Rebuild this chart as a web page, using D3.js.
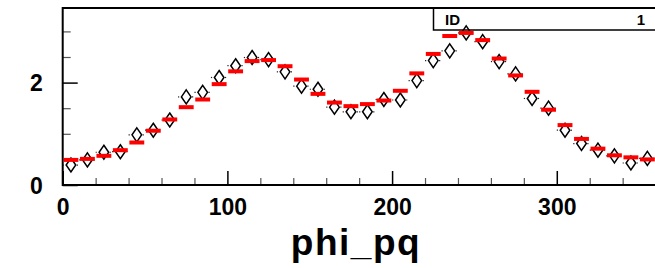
<!DOCTYPE html>
<html>
<head>
<meta charset="utf-8">
<script src="https://cdn.jsdelivr.net/npm/d3@7"></script>
<style>
  body { margin: 0; background: #fff; }
  svg text { font-family: "Liberation Sans", Arial, sans-serif; font-weight: bold; }
</style>
</head>
<body>
<svg id="chart" width="655" height="268"></svg>
<script>
// bin centers (phi_pq, 10 deg bins)
const binCenters = d3.range(5, 360, 10);
// histogram contents (red)
const histVals = [0.49, 0.51, 0.57, 0.68, 0.83, 1.06, 1.28, 1.52, 1.67, 1.97, 2.22, 2.42,
  2.44, 2.32, 2.06, 1.78, 1.61, 1.54, 1.58, 1.65, 1.84, 2.18, 2.56, 2.91,
  2.97, 2.83, 2.47, 2.14, 1.82, 1.47, 1.17, 0.90, 0.71, 0.58, 0.54, 0.50];
// data points (open diamonds)
const pointVals = [0.39, 0.49, 0.64, 0.65, 0.98, 1.07, 1.27, 1.72, 1.81, 2.10, 2.33, 2.49,
  2.45, 2.21, 1.93, 1.87, 1.52, 1.43, 1.43, 1.67, 1.66, 2.04, 2.43, 2.62,
  2.97, 2.80, 2.41, 2.17, 1.69, 1.50, 1.07, 0.81, 0.68, 0.57, 0.43, 0.52];
const xMajor = [0, 100, 200, 300];
const xMinor = d3.range(20, 360, 20).filter((d) => d % 100 !== 0);
const yMajor = [0, 2];
const yMinor = [0.5, 1, 1.5, 2.5, 3];

const svg = d3.select("#chart");
const padL = 62.7, padR = 655.6, padT = 8, padB = 185;
const binW = 10;

const x = d3.scaleLinear().domain([0, 360]).range([padL, padR]);
const y = d3.scaleLinear().domain([0, 3.457]).range([padB, padT]);

// stats box
svg.append("rect")
  .attr("x", 433.5).attr("y", padT)
  .attr("width", 240).attr("height", 22)
  .attr("fill", "#fff").attr("stroke", "#000").attr("stroke-width", 1.5);
svg.append("text").attr("x", 445).attr("y", 25)
  .attr("font-size", 15).text("ID");
svg.append("text").attr("x", 645).attr("y", 25)
  .attr("font-size", 15).attr("text-anchor", "end").text("1");

// x axis
const xAxis = svg.append("g").attr("transform", `translate(0,${padB})`)
  .call(d3.axisBottom(x).tickValues(xMajor).tickSizeInner(-14).tickSizeOuter(0)
    .tickPadding(14).tickFormat(d3.format("d")));
xAxis.select(".domain").remove();
xAxis.selectAll("text").attr("font-size", 23).attr("fill", "#000");
xAxis.selectAll("line").attr("stroke", "#000").attr("stroke-width", 1.5);

const xAxisMinor = svg.append("g").attr("transform", `translate(0,${padB})`)
  .call(d3.axisBottom(x).tickValues(xMinor).tickSize(-7).tickFormat(""));
xAxisMinor.select(".domain").remove();
xAxisMinor.selectAll("line").attr("stroke", "#555").attr("stroke-width", 1.2);

// y axis
const yAxis = svg.append("g").attr("transform", `translate(${padL},0)`)
  .call(d3.axisLeft(y).tickValues(yMajor).tickSizeInner(-15).tickSizeOuter(0)
    .tickPadding(20).tickFormat(d3.format("d")));
yAxis.select(".domain").remove();
yAxis.selectAll("text").attr("font-size", 23).attr("fill", "#000").attr("dy", "0.36em");
yAxis.selectAll("line").attr("stroke", "#000").attr("stroke-width", 1.5);

const yAxisMinor = svg.append("g").attr("transform", `translate(${padL},0)`)
  .call(d3.axisLeft(y).tickValues(yMinor).tickSize(-8).tickFormat(""));
yAxisMinor.select(".domain").remove();
yAxisMinor.selectAll("line").attr("stroke", "#555").attr("stroke-width", 1.2);

// frame
svg.append("path")
  .attr("d", `M${padR + 2},${padT} H${padL} V${padB} H${padR + 2}`)
  .attr("fill", "none").attr("stroke", "#000").attr("stroke-width", 2);

const pts = binCenters.map((c, i) => ({ c, h: histVals[i], p: pointVals[i] }));

// dotted x error bars
const mw = 4.8;
const err = svg.append("g").attr("stroke", "#222").attr("stroke-width", 1.2)
  .attr("stroke-dasharray", "1.2,2");
pts.forEach((d) => {
  err.append("line")
    .attr("x1", x(d.c - binW / 2)).attr("x2", x(d.c) - mw - 1)
    .attr("y1", y(d.p)).attr("y2", y(d.p));
  err.append("line")
    .attr("x1", x(d.c) + mw + 1).attr("x2", x(d.c + binW / 2))
    .attr("y1", y(d.p)).attr("y2", y(d.p));
});

// diamonds
svg.append("g").selectAll("path")
  .data(pts)
  .join("path")
  .attr("d", `M0,-7 L${mw},0 L0,7 L${-mw},0 Z`)
  .attr("transform", (d) => `translate(${x(d.c)},${y(d.p)})`)
  .attr("fill", "none")
  .attr("stroke", "#000")
  .attr("stroke-width", 1.5);

// histogram bars (red)
svg.append("g").selectAll("rect")
  .data(pts)
  .join("rect")
  .attr("x", (d) => x(d.c - binW / 2) + 0.8)
  .attr("width", (d) => x(d.c + binW / 2) - x(d.c - binW / 2) - 1.6)
  .attr("y", (d) => y(d.h) - 2)
  .attr("height", 4)
  .attr("fill", "#ff0000");

// axis title
svg.append("text")
  .attr("x", 356).attr("y", 255)
  .attr("text-anchor", "middle")
  .attr("font-size", 37)
  .attr("letter-spacing", 1.5)
  .attr("fill", "#000")
  .text("phi_pq");
</script>
</body>
</html>
